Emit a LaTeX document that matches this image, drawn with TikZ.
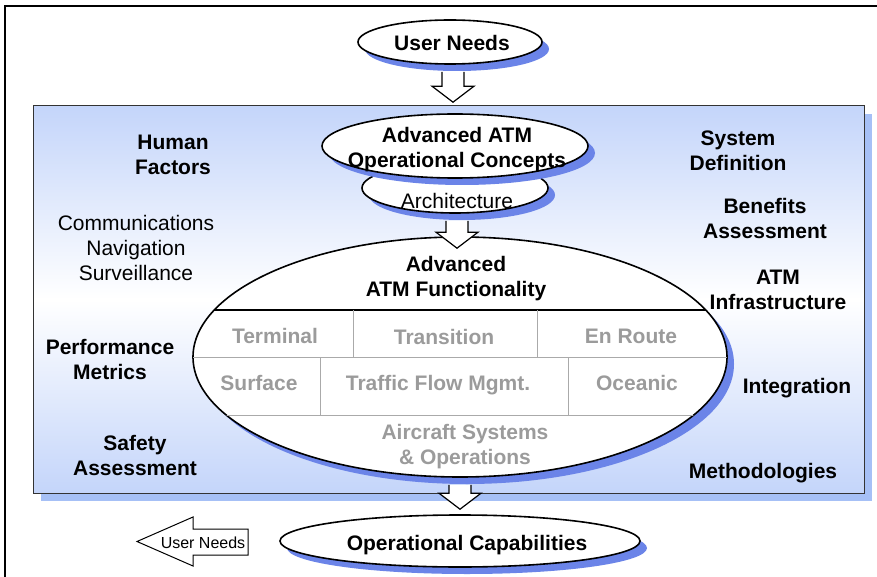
\documentclass[tikz,border=0pt]{standalone}
\usepackage{fontspec}
\setmainfont{Liberation Sans}
\usetikzlibrary{shapes.geometric,shadows,calc}
\definecolor{ellshadow}{RGB}{107,132,232}
\definecolor{panelblue}{RGB}{196,213,250}
\definecolor{panelshadow}{RGB}{166,192,246}
\definecolor{cellgray}{RGB}{155,155,155}
\definecolor{linegray}{RGB}{170,170,170}

\newcommand{\blockdown}[2]{%
  \filldraw[fill=white,draw=black,line width=1.2pt,line join=miter] let \p1=(#1), \p2=(#2) in
    (\x2+11pt,\y1) -- (\x2+11pt,\y2+16pt) -- (\x2+21pt,\y2+16pt) -- (\x2,\y2)
    -- (\x2-21pt,\y2+16pt) -- (\x2-11pt,\y2+16pt) -- (\x2-11pt,\y1);}

\begin{document}
\begin{tikzpicture}[x=1pt,y=-1pt,
  ell/.style={ellipse,draw,line width=1.6pt,fill=white,inner sep=0pt,
    drop shadow={shadow xshift=7pt,shadow yshift=-7pt,fill=ellshadow,opacity=1}},
  boldlbl/.style={font=\fontsize{21}{25}\selectfont\bfseries,align=center,inner sep=0pt},
  plainlbl/.style={font=\fontsize{21}{25}\selectfont,align=center,inner sep=0pt},
  celllbl/.style={boldlbl,text=cellgray}]
  \useasboundingbox (0,0) rectangle (877,577);
  \fill[white] (0,0) rectangle (877,577);
  \draw[line width=1.2pt] (5,577) -- (5,6) -- (877,6);
  \fill[panelshadow] (41,114) rectangle (872,501);
  \fill[top color=panelblue,bottom color=panelblue,middle color=white] (33,106) rectangle (864,493);
  \draw[line width=1pt,draw=black!80] (33,106) rectangle (864,493);

  \node[boldlbl] (hf) at (173,154.5) {Human\\Factors};
  \node[plainlbl] (cns) at (136,247.5) {Communications\\Navigation\\Surveillance};
  \node[boldlbl] (pm) at (110,359) {Performance\\Metrics};
  \node[boldlbl] (sa) at (135,455.5) {Safety\\Assessment};
  \node[boldlbl] (sd) at (738,151) {System\\Definition};
  \node[boldlbl] (ba) at (765,218.5) {Benefits\\Assessment};
  \node[boldlbl] (ai) at (778,289.5) {ATM\\Infrastructure};
  \node[boldlbl] (integ) at (797,388) {Integration};
  \node[boldlbl] (meth) at (763,473) {Methodologies};

  \node[ell,minimum width=534pt,minimum height=240pt] (func) at (460,357) {};
  \begin{scope}
    \clip (func.center) ellipse (267 and 120);
    \draw[line width=1.6pt] (190,310) -- (730,310);
    \draw[linegray,line width=1pt] (190,357) -- (730,357) (190,415) -- (730,415)
      (353,310) -- (353,357) (537,310) -- (537,357)
      (320,357) -- (320,415) (568,357) -- (568,415);
  \end{scope}
  \node[boldlbl] (advf) at (456,278.7) {Advanced\\ATM Functionality};
  \node[celllbl] (term) at (275,336) {Terminal};
  \node[celllbl] (trans) at (444,337) {Transition};
  \node[celllbl] (enr) at (631,336) {En Route};
  \node[celllbl] (surf) at (259,383) {Surface};
  \node[celllbl] (tfm) at (438,385) {Traffic Flow Mgmt.};
  \node[celllbl] (ocean) at (637,383) {Oceanic};
  \node[celllbl] (acs) at (465,446.7) {Aircraft Systems\\\& Operations};

  \node[ell,minimum width=186pt,minimum height=50pt] (arch) at (455,188) {};
  \node[plainlbl] (archtxt) at (457,201) {Architecture};
  \node[ell,minimum width=266pt,minimum height=64pt] (oc) at (455,146) {};
  \node[boldlbl] (octxt) at (457,149.7) {Advanced ATM\\Operational Concepts};
  \node[ell,minimum width=184pt,minimum height=44pt] (un) at (450,42) {};
  \node[boldlbl] (untxt) at (452,43) {User Needs};
  \node[ell,minimum width=360pt,minimum height=52pt] (cap) at (460,541) {};
  \node[boldlbl] (captxt) at (467,545) {Operational Capabilities};

  \coordinate (a1) at ($(un.south)+(0,7)$);
  \coordinate (t1) at ($(oc.north)+(-2,-11)$);
  \coordinate (a2) at ($(arch.south)+(0,7)$);
  \coordinate (t2) at ($(func.north)+(-3,12)$);
  \coordinate (a3) at ($(func.south)+(0,7)$);
  \coordinate (t3) at ($(cap.north)+(0,-5)$);
  \blockdown{a1}{t1}
  \blockdown{a2}{t2}
  \blockdown{a3}{t3}

  \node[font=\fontsize{16}{19}\selectfont,inner sep=0pt] (back) at (203,543) {User Needs};
  \draw[line width=1pt] (248,529) -- (193,529) -- (193,517) -- (137,541.5)
    -- (193,566) -- (193,555) -- (248,555) -- cycle;
\end{tikzpicture}
\end{document}
